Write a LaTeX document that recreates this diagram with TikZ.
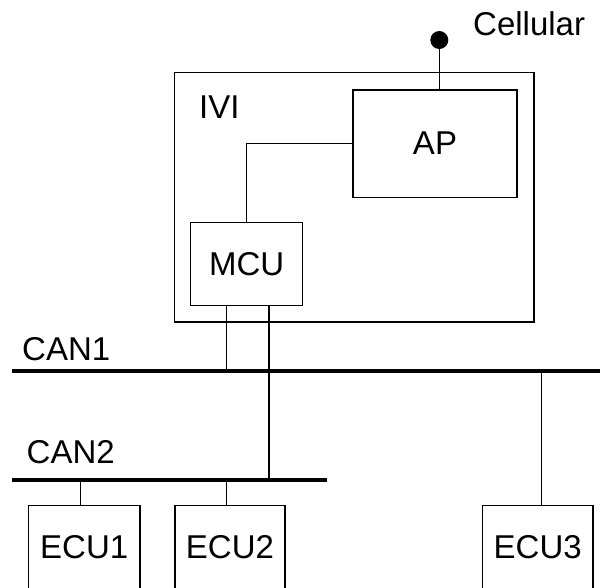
\documentclass[tikz,border=0pt]{standalone}
\usepackage{fontspec}
\setmainfont{Liberation Sans}
\begin{document}
\begin{tikzpicture}[x=1pt,y=-1pt,
  every node/.style={font=\fontsize{33}{39}\selectfont},
  box/.style={draw, line width=1.4pt, inner sep=0pt},
  wire/.style={line width=1.4pt},
  bus/.style={line width=4.5pt},
  lbl/.style={anchor=base west, inner sep=0pt}]
\useasboundingbox (0,0) rectangle (600,587);
\clip (0,0) rectangle (600,587);
% boxes
\node[box, minimum width=359.3pt, minimum height=249.3pt] (IVI) at (354.3,197.3) {};
\node[box, minimum width=163.7pt, minimum height=107.3pt] (AP) at (435,143.6) {AP};
\node[box, minimum width=112pt, minimum height=83pt] (MCU) at (246.7,264.2) {MCU};
\node[box, minimum width=111.7pt, minimum height=83pt] (ECU1) at (84.2,547.2) {ECU1};
\node[box, minimum width=110pt, minimum height=83pt] (ECU2) at (230,547.2) {ECU2};
\node[box, minimum width=110.2pt, minimum height=83pt] (ECU3) at (537.7,547.2) {ECU3};
\node[circle, fill=black, minimum size=18pt, inner sep=0pt] (cell) at (439.3,40) {};
% labels
\node[lbl] (celltxt) at (473,35) {Cellular};
\node[lbl] (ivitxt) at (199,118) {IVI};
\node[lbl] (can1txt) at (22,360) {CAN1};
\node[lbl] (can2txt) at (26.5,463) {CAN2};
% buses
\coordinate (can1w) at (12,371);
\coordinate (can1e) at (600,371);
\coordinate (can2w) at (12,480);
\coordinate (can2e) at (327,480);
\draw[bus] (can1w) -- (can1e);
\draw[bus] (can2w) -- (can2e);
% connectors
\draw[wire] (cell.center) -- (cell |- AP.north);
\draw[wire] (AP.west) -| (MCU.north);
\draw[wire] ([xshift=-20.5pt]MCU.south) -- ([xshift=-20.5pt]MCU.south |- can1w);
\draw[wire] ([xshift=22.3pt]MCU.south) -- ([xshift=22.3pt]MCU.south |- can2w);
\draw[wire] ([xshift=3.8pt]ECU3.north) -- ([xshift=3.8pt]ECU3.north |- can1w);
\draw[wire] ([xshift=-3.5pt]ECU1.north) -- ([xshift=-3.5pt]ECU1.north |- can2w);
\draw[wire] ([xshift=-3.8pt]ECU2.north) -- ([xshift=-3.8pt]ECU2.north |- can2w);
\end{tikzpicture}
\end{document}
